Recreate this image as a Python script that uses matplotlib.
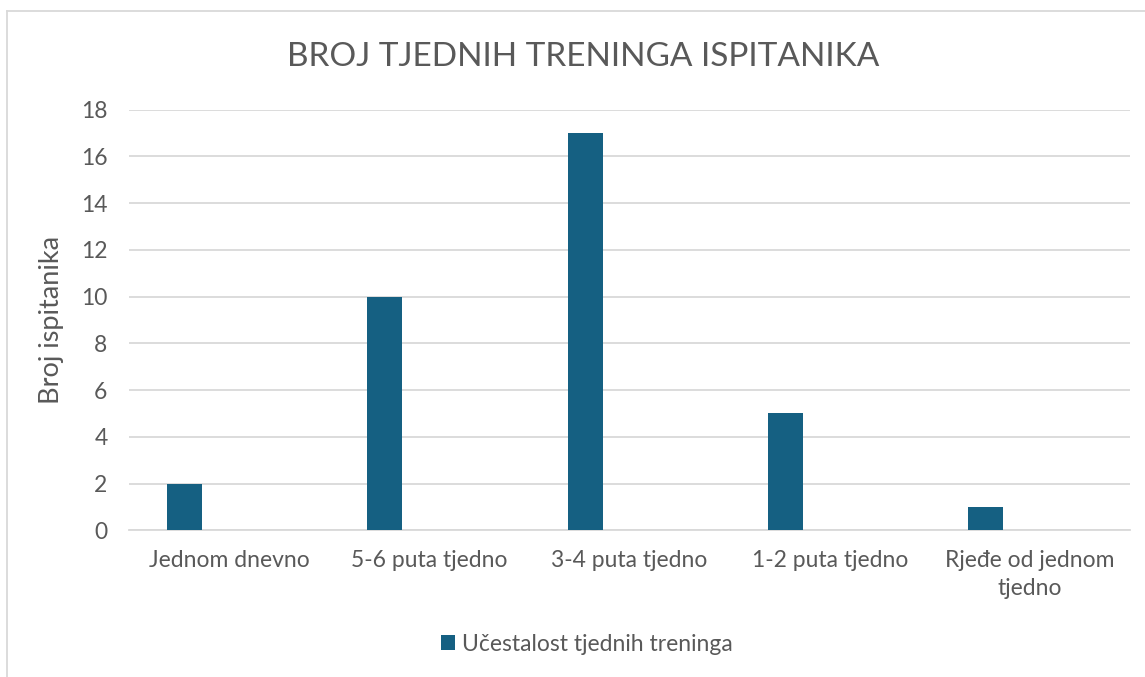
import numpy as np
import matplotlib.pyplot as plt
from matplotlib.lines import Line2D

categories = ['Jednom dnevno', '5-6 puta tjedno', '3-4 puta tjedno',
              '1-2 puta tjedno', 'Rjeđe od jednom\ntjedno']
values = [2, 10, 17, 5, 1]
series_name = 'Učestalost tjednih treninga'

plt.rcParams['font.family'] = ['Lato', 'DejaVu Sans']
txt = '#595959'
grid = '#D9D9D9'
bar_col = '#156082'

fig = plt.figure(figsize=(11.45, 6.77), dpi=100)
ax = fig.add_axes([0.1127, 0.2167, 0.8742, 0.6214])

x = np.arange(len(categories))
ax.bar(x - 0.222, values, width=0.175, color=bar_col, label=series_name, zorder=3)

ax.set_xlim(-0.5, len(categories) - 0.5)
ax.set_ylim(0, 18)
ax.set_yticks(range(0, 19, 2))
ax.set_xticks(x)
ax.set_xticklabels(categories, linespacing=1.45)
ax.tick_params(axis='both', length=0, labelsize=16.5, colors=txt)
ax.tick_params(axis='y', pad=15.5)
ax.tick_params(axis='x', pad=14)
ax.yaxis.grid(True, color=grid, linewidth=1.3)
ax.set_axisbelow(True)
for s in ['top', 'right', 'left']:
    ax.spines[s].set_visible(False)
ax.spines['bottom'].set_color(grid)
ax.spines['bottom'].set_linewidth(1.3)

ax.set_ylabel('Broj ispitanika', fontsize=19.5, color=txt, labelpad=12)

fig.text(0.5096, 0.9025, 'BROJ TJEDNIH TRENINGA ISPITANIKA', ha='center',
         va='baseline', fontsize=24, color=txt)

leg = ax.legend(loc='center', bbox_to_anchor=(0.5127, 0.0487),
                bbox_transform=fig.transFigure, frameon=False, fontsize=16.5,
                handlelength=0.6, handleheight=0.6, handletextpad=0.3)
for t in leg.get_texts():
    t.set_color(txt)

# chart area border (left and top edges visible)
fig.add_artist(Line2D([7 / 1145, 7 / 1145], [0, 1 - 11 / 677],
                      transform=fig.transFigure, color=grid, linewidth=1.3))
fig.add_artist(Line2D([7 / 1145, 1], [1 - 11 / 677, 1 - 11 / 677],
                      transform=fig.transFigure, color=grid, linewidth=1.3))

fig.savefig('out.png', dpi=100)
